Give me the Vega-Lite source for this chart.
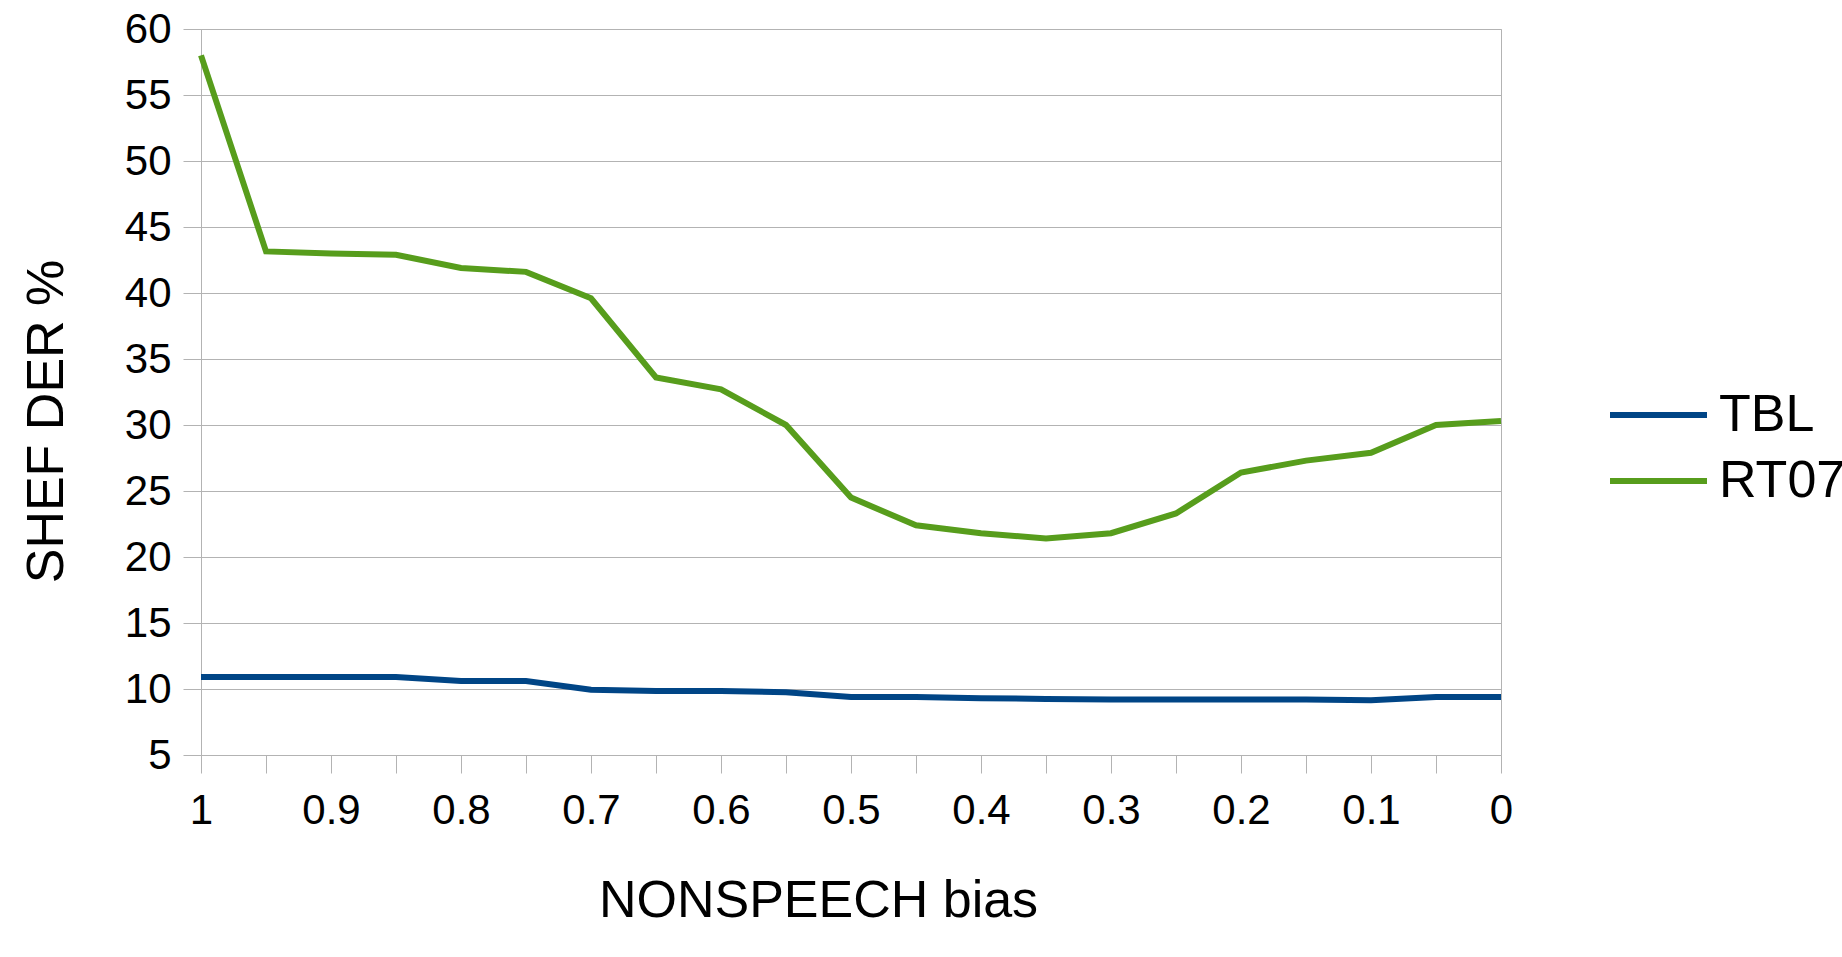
{
  "$schema": "https://vega.github.io/schema/vega-lite/v6.json",
  "autosize": {"type": "none"},
  "padding": {"left": 201, "top": 29, "right": 341, "bottom": 202},
  "width": 1300,
  "height": 726,
  "background": "#ffffff",
  "config": {
    "font": "Liberation Sans",
    "view": {"stroke": "#b3b3b3", "strokeWidth": 1}
  },
  "data": {
    "values": [
      {"bias": 1.00, "series": "RT07", "der": 58.0},
      {"bias": 0.95, "series": "RT07", "der": 43.15},
      {"bias": 0.90, "series": "RT07", "der": 43.0},
      {"bias": 0.85, "series": "RT07", "der": 42.9},
      {"bias": 0.80, "series": "RT07", "der": 41.9},
      {"bias": 0.75, "series": "RT07", "der": 41.6},
      {"bias": 0.70, "series": "RT07", "der": 39.6},
      {"bias": 0.65, "series": "RT07", "der": 33.6},
      {"bias": 0.60, "series": "RT07", "der": 32.7},
      {"bias": 0.55, "series": "RT07", "der": 30.0},
      {"bias": 0.50, "series": "RT07", "der": 24.5},
      {"bias": 0.45, "series": "RT07", "der": 22.4},
      {"bias": 0.40, "series": "RT07", "der": 21.8},
      {"bias": 0.35, "series": "RT07", "der": 21.4},
      {"bias": 0.30, "series": "RT07", "der": 21.8},
      {"bias": 0.25, "series": "RT07", "der": 23.3},
      {"bias": 0.20, "series": "RT07", "der": 26.4},
      {"bias": 0.15, "series": "RT07", "der": 27.3},
      {"bias": 0.10, "series": "RT07", "der": 27.9},
      {"bias": 0.05, "series": "RT07", "der": 30.0},
      {"bias": 0.00, "series": "RT07", "der": 30.3},
      {"bias": 1.00, "series": "TBL", "der": 10.9},
      {"bias": 0.95, "series": "TBL", "der": 10.9},
      {"bias": 0.90, "series": "TBL", "der": 10.9},
      {"bias": 0.85, "series": "TBL", "der": 10.9},
      {"bias": 0.80, "series": "TBL", "der": 10.6},
      {"bias": 0.75, "series": "TBL", "der": 10.6},
      {"bias": 0.70, "series": "TBL", "der": 9.95},
      {"bias": 0.65, "series": "TBL", "der": 9.85},
      {"bias": 0.60, "series": "TBL", "der": 9.85},
      {"bias": 0.55, "series": "TBL", "der": 9.75},
      {"bias": 0.50, "series": "TBL", "der": 9.4},
      {"bias": 0.45, "series": "TBL", "der": 9.4},
      {"bias": 0.40, "series": "TBL", "der": 9.3},
      {"bias": 0.35, "series": "TBL", "der": 9.25},
      {"bias": 0.30, "series": "TBL", "der": 9.2},
      {"bias": 0.25, "series": "TBL", "der": 9.2},
      {"bias": 0.20, "series": "TBL", "der": 9.2},
      {"bias": 0.15, "series": "TBL", "der": 9.2},
      {"bias": 0.10, "series": "TBL", "der": 9.15},
      {"bias": 0.05, "series": "TBL", "der": 9.4},
      {"bias": 0.00, "series": "TBL", "der": 9.4}
    ]
  },
  "mark": {"type": "line", "strokeWidth": 6, "strokeCap": "butt"},
  "encoding": {
    "x": {
      "field": "bias",
      "type": "quantitative",
      "scale": {"domain": [0, 1], "reverse": true, "nice": false, "zero": false},
      "axis": {
        "title": "NONSPEECH bias",
        "values": [0, 0.05, 0.1, 0.15, 0.2, 0.25, 0.3, 0.35, 0.4, 0.45, 0.5, 0.55, 0.6, 0.65, 0.7, 0.75, 0.8, 0.85, 0.9, 0.95, 1],
        "labelExpr": "round(datum.value*100) % 10 === 0 ? format(datum.value, '.1~f') : ''",
        "grid": false,
        "domain": false,
        "ticks": true,
        "tickSize": 18,
        "tickColor": "#b3b3b3",
        "tickWidth": 1,
        "labelFontSize": 42,
        "labelColor": "#000000",
        "labelPadding": 17,
        "labelFlush": false,
        "labelOverlap": false,
        "titleFontSize": 52,
        "titleFontWeight": "normal",
        "titleColor": "#000000",
        "titleX": 617,
        "titleY": 161,
        "titleAlign": "center",
        "titleBaseline": "alphabetic"
      }
    },
    "y": {
      "field": "der",
      "type": "quantitative",
      "scale": {"domain": [5, 60], "nice": false, "zero": false},
      "axis": {
        "title": "SHEF DER %",
        "values": [5, 10, 15, 20, 25, 30, 35, 40, 45, 50, 55, 60],
        "grid": true,
        "gridColor": "#b3b3b3",
        "gridWidth": 1,
        "domain": true,
        "domainColor": "#b3b3b3",
        "tickSize": 18,
        "tickColor": "#b3b3b3",
        "tickWidth": 1,
        "labelFontSize": 42,
        "labelColor": "#000000",
        "labelPadding": 12,
        "labelFlush": false,
        "titleFontSize": 52,
        "titleFontWeight": "normal",
        "titleColor": "#000000",
        "titleAngle": -90,
        "titleX": -139,
        "titleY": 392,
        "titleAlign": "center",
        "titleBaseline": "alphabetic"
      }
    },
    "color": {
      "field": "series",
      "type": "nominal",
      "scale": {"domain": ["TBL", "RT07"], "range": ["#004586", "#579d1c"]},
      "legend": {
        "title": null,
        "orient": "none",
        "legendX": 1406,
        "legendY": 360,
        "symbolType": "stroke",
        "symbolSize": 9409,
        "symbolStrokeWidth": 6,
        "labelFontSize": 52,
        "labelColor": "#000000",
        "labelOffset": 9,
        "clipHeight": 52,
        "rowPadding": 14,
        "labelLimit": 400
      }
    }
  }
}
